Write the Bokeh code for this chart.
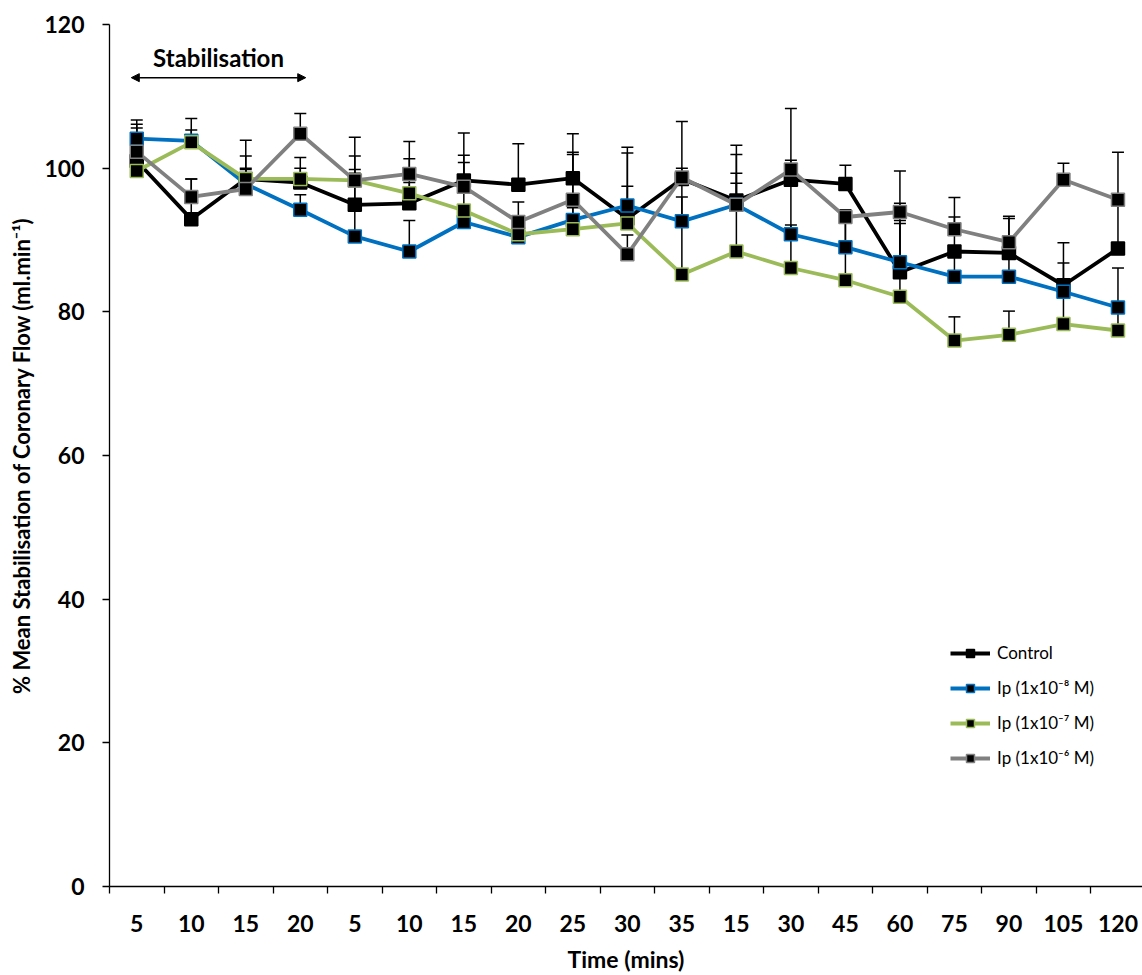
import numpy as np
from bokeh.plotting import figure
from bokeh.models import (ColumnDataSource, FixedTicker, Range1d, Whisker, TeeHead,
                          Arrow, NormalHead, Label, Legend, LegendItem)
from bokeh.embed import file_html
from bokeh.resources import INLINE

# ---------------- data ----------------
time_labels = ["5", "10", "15", "20", "5", "10", "15", "20", "25", "30", "35",
               "15", "30", "45", "60", "75", "90", "105", "120"]

control = [101.0, 92.9, 98.5, 98.0, 94.9, 95.1, 98.3, 97.7, 98.6, 93.0, 98.5,
           95.5, 98.4, 97.8, 85.5, 88.4, 88.2, 83.7, 88.8]
control_err = [5.7, 5.6, 5.4, 3.5, 9.4, 8.6, 6.6, 5.7, 6.2, 9.9, 1.5,
               7.7, 2.7, 2.6, 9.6, 4.8, 4.8, 5.9, 7.5]

ip_1e8 = [104.1, 103.8, 97.8, 94.2, 90.5, 88.4, 92.5, 90.4, 92.8, 94.8, 92.6,
          94.9, 90.8, 89.0, 86.9, 84.9, 84.9, 82.8, 80.6]
ip_1e8_err = [1.5, 1.5, 2.0, 2.1, 11.2, 4.3, 1.5, 2.0, 9.1, 2.7, 6.0,
              4.4, 8.0, 4.0, 5.8, 3.0, 3.0, 4.0, 5.5]

ip_1e7 = [99.6, 103.6, 98.5, 98.5, 98.3, 96.5, 94.1, 90.8, 91.5, 92.3, 85.2,
          88.4, 86.1, 84.4, 82.1, 76.0, 76.8, 78.3, 77.4]
ip_1e7_err = [2.0, 3.3, 1.5, 1.5, 1.5, 1.5, 6.7, 1.5, 3.0, 9.8, 10.8,
              9.5, 6.0, 8.0, 10.2, 3.3, 3.3, 5.0, 4.0]

ip_1e6 = [102.3, 96.0, 97.1, 104.8, 98.3, 99.2, 97.4, 92.5, 95.6, 88.0, 98.7,
          94.9, 99.8, 93.2, 93.9, 91.5, 89.7, 98.4, 95.6]
ip_1e6_err = [3.8, 2.5, 4.6, 2.8, 1.0, 2.1, 4.4, 2.8, 6.6, 2.7, 7.8,
              7.0, 8.5, 1.0, 5.7, 4.4, 3.6, 2.3, 6.6]

series_names = ["Control", "Ip (1x10\u207b\u2078 M)", "Ip (1x10\u207b\u2077 M)", "Ip (1x10\u207b\u2076 M)"]
series_colors = ["#000000", "#0070C0", "#9BBB59", "#808080"]
series_values = [control, ip_1e8, ip_1e7, ip_1e6]
series_errors = [control_err, ip_1e8_err, ip_1e7_err, ip_1e6_err]

y_ticks = [0, 20, 40, 60, 80, 100, 120]

# ---------------- figure ----------------
FONT = "Lato"
n = len(time_labels)
xs = [i + 0.5 for i in range(n)]

p = figure(width=1142, height=975, output_backend="svg", toolbar_location=None,
           x_range=Range1d(0, 18.95), y_range=Range1d(0, 120),
           min_border_left=109, min_border_top=24, min_border_right=0,
           min_border_bottom=89)
p.outline_line_color = None
p.xgrid.visible = False
p.ygrid.visible = False
p.background_fill_color = "white"

# y axis
ya = p.yaxis[0]
ya.ticker = FixedTicker(ticks=y_ticks, minor_ticks=[])
ya.major_tick_out = 7
ya.major_tick_in = 0
ya.axis_line_color = "#000000"
ya.axis_line_width = 1.3
ya.major_tick_line_color = "#000000"
ya.major_tick_line_width = 1.3
ya.major_label_text_font = FONT
ya.major_label_text_font_style = "bold"
ya.major_label_text_font_size = "23px"
ya.major_label_text_color = "#000000"
ya.major_label_standoff = 18
ya.axis_label = "% Mean Stabilisation of Coronary Flow (ml.min\u207b\u00b9)"
ya.axis_label_text_font = FONT
ya.axis_label_text_font_style = "bold"
ya.axis_label_text_font_size = "22px"
ya.axis_label_text_color = "#000000"
ya.axis_label_standoff = 6

# x axis: labels at category centres, tick marks at category boundaries
xa = p.xaxis[0]
xa.ticker = FixedTicker(ticks=xs, minor_ticks=list(range(n)))
xa.major_label_overrides = {x: lab for x, lab in zip(xs, time_labels)}
xa.major_tick_out = 0
xa.major_tick_in = 0
xa.minor_tick_out = 7
xa.minor_tick_in = 0
xa.minor_tick_line_color = "#000000"
xa.minor_tick_line_width = 1.3
xa.axis_line_color = "#000000"
xa.axis_line_width = 1.3
xa.major_label_text_font = FONT
xa.major_label_text_font_style = "bold"
xa.major_label_text_font_size = "23px"
xa.major_label_text_color = "#000000"
xa.major_label_standoff = 21
xa.axis_label = "Time (mins)"
xa.axis_label_text_font = FONT
xa.axis_label_text_font_style = "bold"
xa.axis_label_text_font_size = "23px"
xa.axis_label_text_color = "#000000"
xa.axis_label_standoff = 10

# error bars (upper only)
for vals, errs in zip(series_values, series_errors):
    src = ColumnDataSource(dict(x=xs, y=vals, hi=[v + e for v, e in zip(vals, errs)]))
    w = Whisker(base="x", upper="hi", lower="y", source=src, level="underlay",
                line_color="#000000", line_width=1.5,
                upper_head=TeeHead(size=12, line_color="#000000", line_width=1.5),
                lower_head=None)
    p.add_layout(w)

# series lines + markers
items = []
for name, col, vals in zip(series_names, series_colors, series_values):
    src = ColumnDataSource(dict(x=xs, y=vals))
    ln = p.line("x", "y", source=src, line_color=col, line_width=3.8)
    sc = p.scatter("x", "y", source=src, marker="square", size=13,
                   fill_color="#000000", line_color=col, line_width=1.5)
    items.append(LegendItem(label=name, renderers=[ln, sc]))

legend = Legend(items=items, location=(841, 118), orientation="vertical")
legend.background_fill_alpha = 0
legend.border_line_color = None
legend.padding = 0
legend.margin = 0
legend.spacing = 14
legend.glyph_width = 40
legend.glyph_height = 20
legend.label_height = 20
legend.label_standoff = 7
legend.label_text_font = FONT
legend.label_text_font_size = "17px"
legend.label_text_color = "#000000"
p.add_layout(legend)

# Stabilisation annotation
p.add_layout(Arrow(x_start=0.4, y_start=112.6, x_end=3.6, y_end=112.6,
                   line_color="#000000", line_width=1.5,
                   start=NormalHead(size=8, fill_color="#000000", line_color="#000000"),
                   end=NormalHead(size=8, fill_color="#000000", line_color="#000000")))
p.add_layout(Label(x=2.0, y=115.4, text="Stabilisation", text_align="center",
                   text_baseline="middle", text_font=FONT, text_font_style="bold",
                   text_font_size="24px", text_color="#000000"))

open("out.html", "w").write(file_html(p, INLINE))
